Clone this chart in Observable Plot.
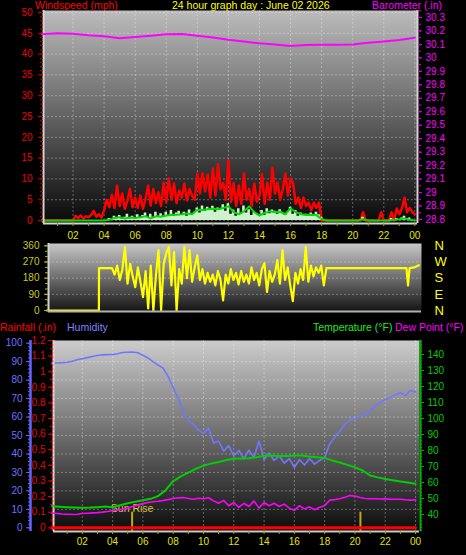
<!DOCTYPE html>
<html><head><meta charset="utf-8">
<script src="https://cdn.jsdelivr.net/npm/d3@7"></script>
<script src="https://cdn.jsdelivr.net/npm/@observablehq/plot@0.6"></script>
<style>
html,body{margin:0;padding:0;background:#000;}
#chart{position:relative;width:466px;height:555px;overflow:hidden;background:#000;font-family:"Liberation Sans",Arial,sans-serif;}
#chart svg{position:absolute;left:0;top:0;}
.lbl{position:absolute;font-size:10.5px;line-height:11px;white-space:nowrap;}
</style></head><body><div id="chart"></div>
<script>
// ---------------- DATA ----------------
const chartTitle = "24 hour graph day : June 02 2026";
const hourTicks = [2,4,6,8,10,12,14,16,18,20,22,24];
const hourLabels = ["02","04","06","08","10","12","14","16","18","20","22","00"];
const hourMinor = [1,3,5,7,9,11,13,15,17,19,21,23];
const windTicks = [0,5,10,15,20,25,30,35,40,45,50];
const baroTicks = [28.8,28.9,29,29.1,29.2,29.3,29.4,29.5,29.6,29.7,29.8,29.9,30,30.1,30.2,30.3];
const dirTicks = [0,90,180,270,360];
const compassLabels = ["N","E","S","W","N"];
const humTicks = [0,10,20,30,40,50,60,70,80,90,100];
const rainTicks = [0,0.1,0.2,0.3,0.4,0.5,0.6,0.7,0.8,0.9,1,1.1,1.2];
const tempTicks = [40,50,60,70,80,90,100,110,120,130,140];

// barometer (inHg), hourly 00..24
const baroHourly = [30.176,30.183,30.180,30.168,30.160,30.146,30.155,30.165,30.175,30.177,30.165,30.152,30.135,30.122,30.108,30.100,30.088,30.095,30.097,30.097,30.099,30.112,30.122,30.133,30.149];

// wind gust (mph), every 10 min
const windGust10 = [
 0,0,0,0,0,0,
 0,0,0,0,0,0,
 0,1.1,0.6,1.2,0.5,1.0,
 0.8,1.3,2.3,0.9,1.5,0.7,
 2.5,5.0,3.2,6.2,3.0,8.4,
 3.5,6.5,2.8,4.8,7.6,3.2,
 5.5,3.0,6.0,2.8,5.2,8.4,
 3.6,7.6,4.2,6.8,3.5,9.1,
 4.5,10.1,5.0,8.9,4.2,7.2,
 5.5,8.9,4.8,7.6,6.0,5.0,
 11.3,6.5,11.3,7.0,11.0,5.5,
 12.5,6.0,13.5,7.5,9.0,5.0,
 14.4,4.5,9.0,3.5,8.4,4.0,
 11.3,5.0,7.6,3.5,8.9,4.5,
 6.0,11.1,4.0,9.1,5.0,12.7,
 6.5,9.1,5.0,7.5,11.3,6.0,
 10.1,8.9,4.0,5.5,3.0,5.5,
 3.5,4.3,2.5,4.3,3.0,4.3,
 0,0,0,0,0,0,
 0,0,0,0,0,0,
 0,0,0,0,2.0,0,
 0,0,0,0,0,2.0,
 0,0,0,2.0,0,2.9,
 1.5,2.9,5.5,2.0,3.0,2.0,
 1.5];

// wind speed (mph), every 10 min
const windSpeed10 = [
 0,0,0,0,0,0, 0,0,0,0,0,0, 0,0,0,0,0,0, 0,0,0,0,0,0,
 0,0,0.5,0.3,1.0,0.4,
 1.2,0.3,0.8,1.5,0.4,1.0,
 0.6,1.4,0.5,1.2,1.8,0.7,
 1.5,0.8,2.0,1.0,1.6,0.9,
 2.0,1.2,2.4,1.0,1.8,2.2,
 1.3,2.0,1.0,2.5,1.5,2.0,
 3.0,1.8,3.5,2.2,3.2,2.5,
 3.4,2.0,3.0,2.6,3.8,2.2,
 4.0,1.5,2.5,1.0,2.8,1.5,
 3.5,1.8,2.6,1.2,2.0,1.5,
 1.0,2.4,1.2,2.8,1.6,2.5,
 2.2,1.5,2.6,1.8,1.2,2.0,
 3.2,1.5,2.4,1.0,1.8,1.2,
 1.5,1.0,1.8,1.2,2.0,1.4,
 0.8,0,0,0,0,0,
 0,0,0,0,0,0,
 0,0,0,0,0.8,0,
 0,0,0,0,0,0,
 0,0,0,0.5,0,0.5,
 0,0.6,1.0,0.4,0.6,0,
 0];

// average wind (mph), every 20 min
const windAvg20 = [
 0,0,0, 0,0,0, 0,0,0, 0,0,0,
 0,0.2,0.6, 0.8,0.5,0.7, 0.6,0.8,1.0, 0.5,1.0,0.9,
 1.2,1.3,1.4, 1.5,1.7,1.5, 2.6,2.5,2.7, 2.8,2.7,3.0,
 3.4,2.0,1.5, 2.2,3.4,2.0, 1.2,1.8,2.2, 2.0,2.1,1.5,
 2.9,2.0,1.5, 1.3,1.4,1.3, 0.3,0,0, 0,0,0,
 0,0,0.3, 0,0,0, 0,0,0.2, 0.3,0.5,0.2,
 0];

// wind direction (deg)
const dirLead = [[0,0],[3.35,0],[3.36,236],[4.2,236]];
const dirNoiseStart = 4.2; // every 10 min from here
const dirNoise10 = [
 236,200,250,170,230,354,150,260,190,130,240,160,
 75,220,11,250,0,200,336,0,260,319,354,140,
 325,0,230,150,354,180,336,160,240,308,170,230,
 150,210,160,200,140,220,170,56,200,150,230,170,
 210,145,220,160,200,150,240,170,210,140,230,263,
 103,220,160,200,280,150,336,170,240,140,52,210,
 150,230,170,354,160,250,190,240,210,250,140,236];
const dirTail = [[18.03,236],[23.2,236],[23.3,140],[23.4,236],[23.7,240],[24.0,252]];

// humidity (%), every 20 min
const humidity20 = [
 89.2,89.3,89.5, 89.7,90.2,91.0, 91.6,92.2,92.8, 93.3,93.7,93.8,
 93.9,94.3,95.0, 95.1,95.2,94.8, 93.5,92.0,90.0, 88.2,86.5,82.0,
 76.0,70.0,63.0, 58.0,56.0,53.0, 51.0,54.0,46.0, 47.0,41.5,44.5,
 39.0,42.0,37.5, 42.0,38.0,47.0, 37.0,40.5,36.5, 39.0,35.0,37.5,
 32.8,37.0,34.0, 37.5,34.5,36.5, 38.0,45.5,49.0, 52.5,56.0,58.2,
 59.0,60.5,61.5, 63.5,66.0,68.0, 69.5,70.5,72.0, 73.1,71.7,74.4,
 73.5];

// temperature (F), every 30 min
const temp30 = [
 45.2,44.8, 44.5,44.3, 44.2,44.3, 44.6,45.0, 44.6,45.8, 47.0,48.0,
 48.9,49.8, 51.5,55.2, 60.8,63.8, 66.2,68.5, 70.6,71.8, 72.8,74.0,
 74.8,75.0, 75.2,75.8, 76.7,76.9, 76.5,76.6, 76.8,76.9, 76.2,75.8,
 75.4,73.8, 72.5,71.0, 69.5,67.5, 64.4,63.2, 62.2,61.4, 60.6,60.0,
 59.2];

// dew point (F), every 20 min
const dew20 = [
 40.8,40.6,40.3, 40.2,40.0,40.2, 40.6,40.8,41.0, 41.2,41.5,41.9,
 42.3,42.8,43.3, 44.0,45.0,46.0, 46.8,47.5,48.0, 48.3,48.7,49.3,
 50.0,50.4,50.6, 50.0,49.5,50.2, 49.8,50.5,48.5, 47.0,48.8,45.5,
 47.5,44.5,47.0, 45.0,48.5,44.0, 47.5,45.5,47.0, 45.0,46.5,44.0,
 42.5,45.5,43.5, 44.8,43.0,44.5, 45.5,49.0,49.3, 49.8,50.8,51.9,
 51.5,50.6,50.0, 49.8,49.8,49.7, 49.8,49.6,49.5, 49.5,49.2,49.0,
 49.2];

// rainfall (in)
const rainHours = [0,24];
const rainValues = [0,0];

// sun events (hour)
const sunHours = [5.29, 20.36];
const sunLabels = ["Sun Rise", ""];

// ---------------- BUILD ----------------
const W = 466, H = 555;
const FONT = '"Liberation Sans", Arial, Helvetica, sans-serif';
const style = {background: "transparent", fontFamily: FONT, fontSize: "10px", overflow: "visible"};
const series = (vals, step, start = 0) => vals.map((v, i) => ({h: start + i * step, v}));
const hourFmt = d => hourLabels[hourTicks.indexOf(d)];
const num = d => String(+d.toFixed(2));
const blank = () => "";

function addGradient(svg, id, top, bottom) {
  const ns = "http://www.w3.org/2000/svg";
  const defs = document.createElementNS(ns, "defs");
  const lg = document.createElementNS(ns, "linearGradient");
  lg.setAttribute("id", id);
  lg.setAttribute("x1", "0"); lg.setAttribute("y1", "0");
  lg.setAttribute("x2", "0"); lg.setAttribute("y2", "1");
  for (const [o, c] of [[0, top], [1, bottom]]) {
    const s = document.createElementNS(ns, "stop");
    s.setAttribute("offset", o); s.setAttribute("stop-color", c);
    lg.appendChild(s);
  }
  defs.appendChild(lg);
  svg.insertBefore(defs, svg.firstChild);
}

const gust = series(windGust10, 1/6);
const speed = series(windSpeed10, 1/6);
const avg = series(windAvg20, 1/3);
const baro = series(baroHourly, 1);
const dir = [
  ...dirLead.map(([h, v]) => ({h, v})),
  ...series(dirNoise10, 1/6, dirNoiseStart),
  ...dirTail.map(([h, v]) => ({h, v}))
];
const hum = series(humidity20, 1/3);
const temp = series(temp30, 0.5);
const dew = series(dew20, 1/3);
const rain = rainHours.map((h, i) => ({h, v: rainValues[i]}));
const sun = sunHours.map((h, i) => ({h, label: sunLabels[i]}));

const x1Domain = [0.1, 24.17];
const windDomain = [-0.72, 50.48];
const baroDomain = [28.770, 30.352];
const dirDomain = [-5.6, 373];
const x3Domain = [0.1, 24.26];
const humDomain = [-2.0, 101.46];
const rainDomain = [-0.0237, 1.2];
const tempDomain = [29.375, 148.75];

const grid = {stroke: "#ffffff", strokeOpacity: 0.32, strokeDasharray: "2,2"};
const yellow = "#e4e400";
const ax = (o) => ({label: null, ...o});

// Panel 1: wind speed
const p1 = Plot.plot({
  width: W, height: H, style,
  marginLeft: 43, marginRight: 49, marginTop: 10, marginBottom: H - 223,
  x: {domain: x1Domain, axis: null, label: null},
  y: {domain: windDomain, axis: null, label: null},
  marks: [
    Plot.frame({fill: "url(#g1)", stroke: "none"}),
    Plot.gridY(windTicks, grid),
    Plot.gridX(hourTicks, grid),
    Plot.line(gust, {x: "h", y: "v", stroke: "#ff0000", strokeWidth: 2.5}),
    Plot.areaY(speed, {x: "h", y: "v", fill: "#cdf2cd", curve: "step"}),
    Plot.line(avg, {x: "h", y: "v", stroke: "#00dd00", strokeWidth: 2}),
    Plot.ruleX([x1Domain[0]], {stroke: "#d4d4d4", strokeWidth: 2}),
    Plot.ruleY([windDomain[0]], {stroke: "#d4d4d4", strokeWidth: 2}),
    Plot.axisY(windTicks, ax({anchor: "left", tickSize: 5, tickPadding: 6, stroke: "#d00000", fill: "#ee0000", tickFormat: num})),
    Plot.axisY(d3.range(0, 51, 1), ax({anchor: "left", tickSize: 3, stroke: "#c00000", tickFormat: blank})),
    Plot.axisX(hourTicks, ax({anchor: "bottom", tickSize: 3, tickPadding: 5, stroke: "#a0b000", fill: yellow, tickFormat: hourFmt})),
    Plot.axisX(hourMinor, ax({anchor: "bottom", tickSize: 3, stroke: "#a0b000", tickFormat: blank}))
  ]
});
addGradient(p1, "g1", "#bcbcbc", "#080808");

// Panel 1 overlay: barometer
const p1b = Plot.plot({
  width: W, height: H, style,
  marginLeft: 43, marginRight: 49, marginTop: 10, marginBottom: H - 223,
  x: {domain: x1Domain, axis: null, label: null},
  y: {domain: baroDomain, axis: null, label: null},
  marks: [
    Plot.line(baro, {x: "h", y: "v", stroke: "#ff00ff", strokeWidth: 2}),
    Plot.ruleX([x1Domain[1]], {stroke: "#d4d4d4", strokeWidth: 2}),
    Plot.axisY(baroTicks, ax({anchor: "right", tickSize: 4, tickPadding: 4, stroke: "#e000e0", fill: "#ff00ff", tickFormat: num})),
    Plot.axisY(d3.range(28.8, 30.36, 0.05), ax({anchor: "right", tickSize: 3, stroke: "#e000e0", tickFormat: blank}))
  ]
});

// Panel 2: wind direction
const p2 = Plot.plot({
  width: W, height: H, style,
  marginLeft: 48, marginRight: 45, marginTop: 243, marginBottom: H - 311,
  x: {domain: x1Domain, axis: null, label: null},
  y: {domain: dirDomain, axis: null, label: null},
  marks: [
    Plot.frame({fill: "url(#g2)", stroke: "none"}),
    Plot.gridY([90, 180, 270], {stroke: "#ffffff", strokeOpacity: 0.3, strokeDasharray: "2,2"}),
    Plot.line(dir, {x: "h", y: "v", stroke: "#ffff00", strokeWidth: 2.2}),
    Plot.ruleX([x1Domain[0]], {stroke: "#d4d4d4", strokeWidth: 2}),
    Plot.ruleY([dirDomain[0]], {stroke: "#b0b0b0", strokeWidth: 2}),
    Plot.axisY(dirTicks, ax({anchor: "left", tickSize: 4, tickPadding: 5, stroke: "#b8b800", fill: "#c8c820", tickFormat: num})),
    Plot.axisY(d3.range(0, 361, 30), ax({anchor: "left", tickSize: 3, stroke: "#b8b800", tickFormat: blank})),
    Plot.axisY(dirTicks, ax({anchor: "right", tickSize: 0, tickPadding: 13, fill: "#ffff00", fontSize: 13, tickFormat: d => compassLabels[dirTicks.indexOf(d)]}))
  ]
});
addGradient(p2, "g2", "#c8c8c8", "#141414");

// Panel 3 base: humidity
const p3 = Plot.plot({
  width: W, height: H, style,
  marginLeft: 53, marginRight: 47, marginTop: 340, marginBottom: H - 531,
  x: {domain: x3Domain, axis: null, label: null},
  y: {domain: humDomain, axis: null, label: null},
  marks: [
    Plot.frame({fill: "url(#g3)", stroke: "none"}),
    Plot.gridY(humTicks.slice(1, 10), grid),
    Plot.gridX(hourTicks, grid),
    Plot.line(hum, {x: "h", y: "v", stroke: "#7474ff", strokeWidth: 1.6}),
    Plot.ruleX([x3Domain[0]], {stroke: "#dcdcdc", strokeWidth: 2}),
    Plot.ruleY([humDomain[0]], {stroke: "#c8c8c8", strokeWidth: 2}),
    Plot.ruleX([x3Domain[0]], {dx: -23, stroke: "#6464ff", strokeWidth: 2.5}),
    Plot.axisY(humTicks, ax({anchor: "left", dx: -23, tickSize: 4, tickPadding: 4, stroke: "#6464ff", fill: "#7070ff", tickFormat: num})),
    Plot.axisY(d3.range(0, 101, 2), ax({anchor: "left", dx: -23, tickSize: 2, stroke: "#6464ff", tickFormat: blank})),
    Plot.axisX(hourTicks, ax({anchor: "bottom", tickSize: 3, tickPadding: 3, stroke: "#a0b000", fill: yellow, tickFormat: hourFmt})),
    Plot.axisX(hourMinor, ax({anchor: "bottom", tickSize: 3, stroke: "#a0b000", tickFormat: blank}))
  ]
});
addGradient(p3, "g3", "#cccccc", "#0c0c0c");

// Panel 3 overlay: rainfall + sun events
const p3r = Plot.plot({
  width: W, height: H, style,
  marginLeft: 53, marginRight: 47, marginTop: 340, marginBottom: H - 531,
  x: {domain: x3Domain, axis: null, label: null},
  y: {domain: rainDomain, axis: null, label: null},
  marks: [
    Plot.ruleX(sun, {x: "h", y1: rainDomain[0], y2: 0.1, stroke: "#c0a818", strokeWidth: 2}),
    Plot.text(sun, {x: "h", y: 0.1, text: "label", lineAnchor: "bottom", dy: 0, fill: "#d4c030", fontSize: 10.5}),
    Plot.line(rain, {x: "h", y: "v", stroke: "#ff0000", strokeWidth: 3}),
    Plot.ruleX([x3Domain[0]], {dx: -1, stroke: "#ff2020", strokeWidth: 1.5, strokeDasharray: "2,2"}),
    Plot.axisY(rainTicks, ax({anchor: "left", dx: -1, tickSize: 4, tickPadding: 3, stroke: "#e00000", fill: "#ee0000", tickFormat: num})),
    Plot.axisY(d3.range(0, 1.21, 0.05), ax({anchor: "left", dx: -1, tickSize: 2, stroke: "#e00000", tickFormat: blank}))
  ]
});

// Panel 3 overlay: temperature + dew point
const p3t = Plot.plot({
  width: W, height: H, style,
  marginLeft: 53, marginRight: 47, marginTop: 340, marginBottom: H - 531,
  x: {domain: x3Domain, axis: null, label: null},
  y: {domain: tempDomain, axis: null, label: null},
  marks: [
    Plot.line(dew, {x: "h", y: "v", stroke: "#ff00ff", strokeWidth: 1.6}),
    Plot.line(temp, {x: "h", y: "v", stroke: "#00d000", strokeWidth: 2}),
    Plot.ruleX([x3Domain[1]], {dx: 1, stroke: "#00b000", strokeWidth: 2}),
    Plot.axisY(tempTicks, ax({anchor: "right", tickSize: 4, tickPadding: 4, stroke: "#00b000", fill: "#00cc00", tickFormat: num})),
    Plot.axisY(d3.range(30, 149, 2), ax({anchor: "right", tickSize: 2, stroke: "#00b000", tickFormat: blank}))
  ]
});

const chart = document.getElementById("chart");
for (const s of [p1, p1b, p2, p3, p3r, p3t]) chart.appendChild(s);

const labels = [
  ["Windspeed (mph)", 35, 0, "#ff0000"],
  [chartTitle, 172, 0, "#ffff00"],
  ["Barometer (.in)", 372, 0, "#ff00ff"],
  ["Rainfall (.in)", 0, 322, "#ff0000"],
  ["Humidity", 67, 322, "#8080ff"],
  ["Temperature (°F)", 313, 322, "#22e822"],
  ["Dew Point (°F)", 395, 322, "#ff00ff"]
];
for (const [t, x, y, c] of labels) {
  const d = document.createElement("div");
  d.className = "lbl";
  d.textContent = t;
  d.style.left = x + "px"; d.style.top = y + "px"; d.style.color = c;
  chart.appendChild(d);
}
</script></body></html>
